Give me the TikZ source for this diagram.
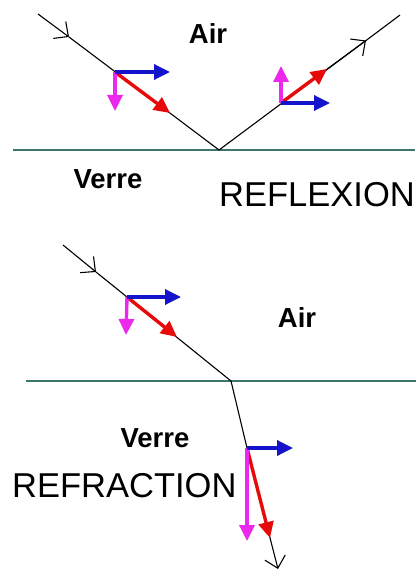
\documentclass[tikz,border=0pt]{standalone}
\usepackage{fontspec}
\setmainfont{Liberation Sans}
\usetikzlibrary{arrows.meta}

\definecolor{interface}{RGB}{62,118,108}
\definecolor{vblue}{RGB}{20,20,205}
\definecolor{vmag}{RGB}{235,40,235}
\definecolor{vred}{RGB}{230,10,10}

\begin{document}
\begin{tikzpicture}[x=1pt,y=-1pt,
  ray/.style={black, line width=1.1pt},
  raytip/.style={ray, -{Straight Barb[length=11pt,width=21pt,line width=1.1pt]}},
  surface/.style={interface, line width=2.8pt},
  vec/.style={line width=3.4pt, -{Triangle[length=16pt,width=15pt]}},
  medium/.style={font=\fontsize{27.5}{30}\selectfont\bfseries, inner sep=0pt},
  title/.style={font=\fontsize{34.5}{38}\selectfont, inner sep=0pt, anchor=west}]
\useasboundingbox (0,0) rectangle (416,569);

% reflexion
\coordinate (S1) at (38,14);
\coordinate (M1) at (69,37);
\coordinate (P1) at (115,72);
\coordinate (I1) at (219,150);
\coordinate (P2) at (281,103);
\coordinate (M2) at (366,40.5);
\coordinate (E1) at (400,15);
\coordinate (L1) at (13,150);
\coordinate (R1) at (415,150);

\draw[surface] (L1) -- (R1);
\draw[raytip] (S1) -- (M1);
\draw[ray] (M1) -- (I1) -- (M2);
\draw[ray] (M2) -- (E1);
\draw[raytip] (P2) -- (M2);

\coordinate (B1) at (170,72);
\coordinate (G1) at (115,111);
\coordinate (C1) at (170,113);
\draw[vec, vred] (P1) -- (C1);
\draw[vec, vmag] (P1) -- (G1);
\draw[vec, vblue] (P1) -- (B1);

\coordinate (B2) at (330,103);
\coordinate (G2) at (281,66);
\coordinate (C2) at (327,69);
\draw[vec, vred] (P2) -- (C2);
\draw[vec, vmag] (P2) -- (G2);
\draw[vec, vblue] (P2) -- (B2);

\node[medium] (air1) at (208,34) {Air};
\node[medium] (verre1) at (108,179) {Verre};
\node[title] (reflexion) at (219,195) {REFLEXION};

% refraction
\coordinate (S3) at (63,245);
\coordinate (M3) at (96,272);
\coordinate (P3) at (127,297);
\coordinate (I2) at (231,381);
\coordinate (P4) at (247,448);
\coordinate (E2) at (278,569);
\coordinate (L2) at (26,381);
\coordinate (R2) at (416,381);

\draw[surface] (L2) -- (R2);
\draw[raytip] (S3) -- (M3);
\draw[ray] (M3) -- (I2) -- (P4);
\draw[raytip] (P4) -- (E2);

\coordinate (B3) at (181,297);
\coordinate (G3) at (126,335);
\coordinate (C3) at (177,337);
\draw[vec, vred] (P3) -- (C3);
\draw[vec, vmag] (P3) -- (G3);
\draw[vec, vblue] (P3) -- (B3);

\coordinate (B4) at (293,448);
\coordinate (G4) at (247,541);
\coordinate (C4) at (270,538);
\draw[vec, vred] (P4) -- (C4);
\draw[vec, vmag] (P4) -- (G4);
\draw[vec, vblue] (P4) -- (B4);

\node[medium] (air2) at (297,318) {Air};
\node[medium] (verre2) at (155,438) {Verre};
\node[title] (refraction) at (12,486) {REFRACTION};
\end{tikzpicture}
\end{document}
